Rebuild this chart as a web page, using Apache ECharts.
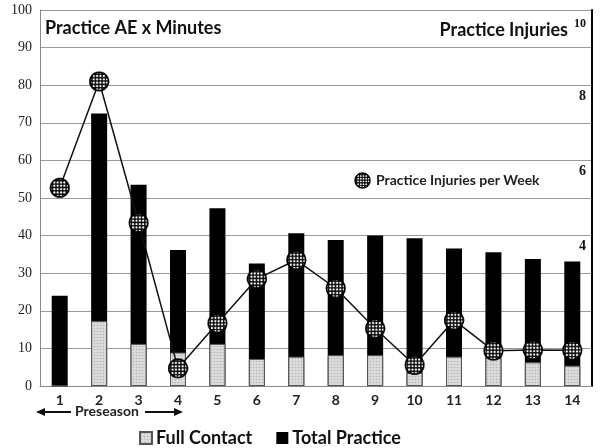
<!DOCTYPE html>
<html>
<head>
<meta charset="utf-8">
<script src="https://cdn.jsdelivr.net/npm/echarts@6/dist/echarts.min.js"></script>
<style>html,body{margin:0;padding:0;background:#fff;}#c{width:600px;height:448px;}</style>
</head>
<body>
<div id="c"></div>
<script>
var weeks = ['1','2','3','4','5','6','7','8','9','10','11','12','13','14'];
var totalPractice = [24, 72.5, 53.5, 36.2, 47.3, 32.6, 40.6, 38.8, 40.0, 39.3, 36.6, 35.6, 33.8, 33.1];
var fullContact = [0, 17.3, 11.2, 8.9, 11.2, 7.2, 7.8, 8.2, 8.2, 3.5, 7.8, 7.4, 6.3, 5.4];
var injuriesPerWeek = [5.27, 8.1, 4.34, 0.47, 1.67, 2.85, 3.35, 2.6, 1.53, 0.56, 1.75, 0.94, 0.96, 0.95];
var leftTicks = [0,10,20,30,40,50,60,70,80,90,100];
var rightTicks = [4,6,8,10];

function makePattern(size, bg, dot, r) {
  var cv = document.createElement('canvas');
  cv.width = size; cv.height = size;
  var ctx = cv.getContext('2d');
  ctx.fillStyle = bg; ctx.fillRect(0,0,size,size);
  ctx.fillStyle = dot;
  ctx.beginPath(); ctx.arc(size/2, size/2, r, 0, Math.PI*2); ctx.fill();
  return cv;
}
function makeMarker(px) {
  var s = 3;
  var cv = document.createElement('canvas');
  cv.width = px * s; cv.height = px * s;
  var ctx = cv.getContext('2d');
  var c = px * s / 2;
  var rad = c - 1.2 * s;
  ctx.save();
  ctx.beginPath(); ctx.arc(c, c, rad, 0, Math.PI*2); ctx.clip();
  ctx.fillStyle = '#111'; ctx.fillRect(0,0,cv.width,cv.height);
  ctx.fillStyle = '#fff';
  var step = 3.2 * s;
  for (var y = 0; y < cv.height + step; y += step) {
    for (var x = 0; x < cv.width + step; x += step) {
      ctx.beginPath(); ctx.arc(x + step/2, y + step/2, 1.0 * s, 0, Math.PI*2); ctx.fill();
    }
  }
  ctx.restore();
  ctx.lineWidth = 1.6 * s; ctx.strokeStyle = '#000';
  ctx.beginPath(); ctx.arc(c, c, rad, 0, Math.PI*2); ctx.stroke();
  return 'image://' + cv.toDataURL();
}
var markerIcon = makeMarker(20);
var grayDots = {image: makePattern(3, '#dcdcdc', '#b4b4b4', 0.8), repeat: 'repeat'};

var chart = echarts.init(document.getElementById('c'));
var sans = 'Lato';
var serif = 'Liberation Serif';
chart.setOption({
  animation: false,
  backgroundColor: '#fff',
  grid: {left: 40, right: 8, top: 10, bottom: 62},
  legend: [{
    data: [{name: 'Practice Injuries per Week', icon: markerIcon}],
    left: 349, top: 167, itemWidth: 17, itemHeight: 17, itemGap: 6,
    textStyle: {fontFamily: sans, fontWeight: 'bold', fontSize: 14, color: '#222'}
  }, {
    data: ['Full Contact', 'Total Practice'],
    left: 134, top: 424, itemWidth: 12, itemHeight: 12, itemGap: 24,
    icon: 'rect',
    textStyle: {fontFamily: sans, fontWeight: 'bold', fontSize: 18, color: '#111', padding: [0,0,0,-1]}
  }],
  xAxis: {
    type: 'category', data: weeks,
    axisLine: {lineStyle: {color: '#888', width: 1}},
    axisTick: {show: false},
    axisLabel: {fontFamily: sans, fontWeight: 'bold', fontSize: 14, color: '#222', margin: 7}
  },
  yAxis: [{
    type: 'value', min: 0, max: 100, interval: 10,
    axisLine: {show: true, lineStyle: {color: '#888'}},
    axisTick: {show: false},
    splitLine: {lineStyle: {color: '#999', width: 1}},
    axisLabel: {fontFamily: serif, fontSize: 14, color: '#222', margin: 8,
      customValues: leftTicks}
  }, {
    type: 'value', min: 0, max: 10, position: 'right',
    axisLine: {show: true, lineStyle: {color: '#000', width: 2}},
    axisTick: {show: false},
    splitLine: {show: false},
    axisLabel: {inside: true, fontFamily: serif, fontWeight: 'bold', fontSize: 14, color: '#111',
      margin: 6, verticalAlign: 'top', padding: [4,0,0,0],
      customValues: rightTicks,
      formatter: function (v) { return v === 10 ? '{s|10}' : String(v); },
      rich: {s: {fontFamily: serif, fontWeight: 'bold', fontSize: 12, color: '#111', padding: [4,0,0,0]}}}
  }],
  series: [{
    name: 'Total Practice', type: 'bar', data: totalPractice,
    barWidth: 16, barGap: '-100%',
    itemStyle: {color: '#000'}
  }, {
    name: 'Full Contact', type: 'bar', data: fullContact,
    barWidth: 16,
    itemStyle: {color: grayDots, borderColor: '#555', borderWidth: 1}
  }, {
    name: 'Practice Injuries per Week', type: 'line', yAxisIndex: 1, data: injuriesPerWeek,
    symbol: markerIcon, symbolSize: 21, z: 5,
    lineStyle: {color: '#111', width: 1.5},
    itemStyle: {color: '#555'}
  }],
  graphic: [
    {type: 'text', left: 45, top: 19, style: {text: 'Practice AE x Minutes', fontFamily: sans, fontWeight: 'bold', fontSize: 18, fill: '#111'}},
    {type: 'text', right: 32, top: 21, style: {text: 'Practice Injuries', fontFamily: sans, fontWeight: 'bold', fontSize: 18, fill: '#111'}},
    {type: 'text', left: 75, top: 404, style: {text: 'Preseason', fontFamily: sans, fontWeight: 'bold', fontSize: 14, fill: '#222'}},
    {type: 'line', shape: {x1: 40, y1: 412, x2: 71, y2: 412}, style: {stroke: '#111', lineWidth: 2}},
    {type: 'polygon', shape: {points: [[36,412],[45,408],[45,416]]}, style: {fill: '#111'}},
    {type: 'line', shape: {x1: 145, y1: 412, x2: 178, y2: 412}, style: {stroke: '#111', lineWidth: 2}},
    {type: 'polygon', shape: {points: [[183,412],[174,408],[174,416]]}, style: {fill: '#111'}}
  ]
});
</script>
</body>
</html>
